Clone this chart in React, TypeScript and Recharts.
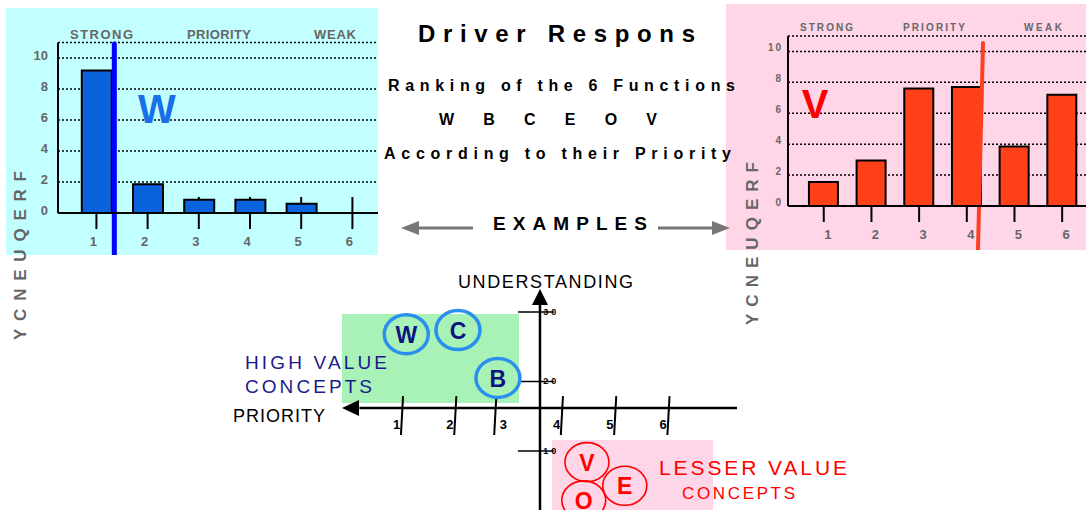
import {
  BarChart,
  Bar,
  XAxis,
  YAxis,
  CartesianGrid,
  ReferenceLine,
  ReferenceArea,
  ScatterChart,
  Scatter,
} from 'recharts'

const FONT = '"Liberation Sans", Arial, Helvetica, sans-serif'
const GRAY = '#666666'

// top charts: frequency of each priority rank
const ranks = [1, 2, 3, 4, 5, 6]
const wFrequency = [9.2, 1.85, 0.85, 0.85, 0.6, 0]
const vFrequency = [1.55, 2.95, 7.6, 7.7, 3.85, 7.2]
const freqTicks = [0, 2, 4, 6, 8, 10]
const headerLabels = ['STRONG', 'PRIORITY', 'WEAK']
const functionLetters = ['W', 'B', 'C', 'E', 'O', 'V']

// bottom diagram: priority vs understanding
const highValue = [
  { name: 'W', priority: 1.08, understanding: 26.8 },
  { name: 'C', priority: 2.05, understanding: 27.4 },
  { name: 'B', priority: 2.8, understanding: 20.5 },
]
const lesserValue = [
  { name: 'V', priority: 4.47, understanding: 8.4 },
  { name: 'E', priority: 5.18, understanding: 5.0 },
  { name: 'O', priority: 4.41, understanding: 2.9 },
]
const priorityTicks = [1, 2, 2.75, 4, 5, 6]
const priorityLabels = ['1', '2', '3', '4', '5', '6']
const understandingTicks = [10, 20, 30]

const wData = ranks.map((rank, i) => ({ rank, freq: wFrequency[i] }))
const vData = ranks.map((rank, i) => ({ rank, freq: vFrequency[i] }))

// plot height 170.5px for an 11-unit domain
const PX_PER_UNIT = 170.5 / 11

function RankTick(props: any) {
  const { x, y, payload, up, dx, freqs } = props
  // the bars hide the upper half of the tick, so only draw what sticks out
  const covered = Math.min(up, (freqs[payload.value - 1] || 0) * PX_PER_UNIT)
  return (
    <g>
      {up > covered && <line x1={x} x2={x} y1={y - up} y2={y - covered} stroke="#000" strokeWidth={2} />}
      <line x1={x} x2={x} y1={y} y2={y + 16} stroke="#000" strokeWidth={2} />
      <text x={x + dx} y={y + 33} textAnchor="middle" fontFamily={FONT} fontWeight={700} fontSize={13} fill={GRAY}>
        {payload.value}
      </text>
    </g>
  )
}

function FreqTick(props: any) {
  const { x, y, payload, off, size, spacing, dy } = props
  return (
    <text x={x - off} y={y + dy} textAnchor="end" fontFamily={FONT} fontWeight={700} fontSize={size} letterSpacing={spacing} fill={GRAY}>
      {payload.value}
    </text>
  )
}

function FreqChart(props: any) {
  const { data, freqs, color, width, height, margin, marker, tickUp, tickDx, ySize, ySpacing, yOff, yDy, barSize } = props
  return (
    <BarChart width={width} height={height} data={data} margin={margin}>
      <CartesianGrid vertical={false} stroke="#000" strokeWidth={1.5} strokeDasharray="2 2" />
      <XAxis
        type="number"
        dataKey="rank"
        domain={[0.25, 6.5]}
        ticks={ranks}
        interval={0}
        allowDataOverflow
        height={30}
        tickSize={0}
        tickMargin={0}
        axisLine={{ stroke: '#000', strokeWidth: 2 }}
        tickLine={false}
        tick={(p: any) => <RankTick {...p} up={tickUp} dx={tickDx} freqs={freqs} />}
      />
      <YAxis
        type="number"
        domain={[0, 11]}
        ticks={freqTicks}
        interval={0}
        allowDataOverflow
        width={30}
        tickSize={0}
        tickMargin={0}
        axisLine={{ stroke: '#000', strokeWidth: 2 }}
        tickLine={false}
        tick={(p: any) => <FreqTick {...p} off={yOff} size={ySize} spacing={ySpacing} dy={yDy} />}
      />
      <Bar dataKey="freq" fill={color} stroke="#000" strokeWidth={2} barSize={barSize} isAnimationActive={false} />
      <ReferenceLine segment={marker.segment} stroke={marker.color} strokeWidth={marker.width} strokeLinecap="round" ifOverflow="visible" />
    </BarChart>
  )
}

function ConceptMark(props: any) {
  const { cx, cy, payload, stroke, strokeWidth, textColor } = props
  return (
    <g>
      <ellipse cx={cx} cy={cy} rx={22} ry={19.5} fill="none" stroke={stroke} strokeWidth={strokeWidth} />
      <text x={cx} y={cy + 8.5} textAnchor="middle" fontFamily={FONT} fontWeight={700} fontSize={23} fill={textColor}>
        {payload.name}
      </text>
    </g>
  )
}

function SmallLabel(props: any) {
  const { cx, cy, payload } = props
  return (
    <text x={cx} y={cy + payload.dy} textAnchor="middle" fontFamily={FONT} fontWeight={700} fontSize={payload.size} letterSpacing={payload.spacing} fill="#000">
      {payload.label}
    </text>
  )
}

function ArrowHead(props: any) {
  const { cx, cy, payload } = props
  const pts = payload.dir === 'left'
    ? `${cx},${cy} ${cx + 17},${cy - 8} ${cx + 17},${cy + 8}`
    : `${cx},${cy} ${cx - 8},${cy + 16} ${cx + 8},${cy + 16}`
  return <polygon points={pts} fill="#000" />
}

function Txt(props: any) {
  const { x, y, w, size, bold = true, color = '#000', children, anchor = 'start' } = props
  return (
    <text
      x={x}
      y={y}
      textLength={w}
      lengthAdjust="spacing"
      textAnchor={anchor}
      fontFamily={FONT}
      fontWeight={bold ? 700 : 400}
      fontSize={size}
      fill={color}
    >
      {children}
    </text>
  )
}

export default function App() {
  const axisY = 16.19
  const axisX = 3.589
  const tickLabelData = priorityLabels.map((label, i) => ({
    priority: i + 0.9,
    understanding: 13.88,
    label,
    dy: 4.5,
    size: 13,
    spacing: 0,
  }))
  const uLabelData = understandingTicks.map((u) => ({
    priority: 3.8,
    understanding: u,
    label: String(u),
    dy: 3,
    size: 9,
    spacing: 3,
  }))
  const arrowData = [
    { priority: -0.126, understanding: axisY, dir: 'left' },
    { priority: axisX, understanding: 33.3, dir: 'up' },
  ]

  return (
    <div style={{ position: 'absolute', left: 0, top: 0, width: 1086, height: 510, background: '#fff', overflow: 'hidden' }}>
      <div style={{ position: 'absolute', left: 6, top: 8, width: 372, height: 247, background: '#c2ffff' }}>
        <FreqChart
          data={wData}
          freqs={wFrequency}
          color="#0a62dc"
          width={372}
          height={247}
          margin={{ top: 34.5, right: 0, bottom: 12, left: 22 }}
          marker={{ segment: [{ x: 1.35, y: 10.9 }, { x: 1.35, y: -2.8 }], color: '#0000ff', width: 5 }}
          tickUp={16}
          tickDx={-3}
          ySize={13}
          ySpacing={0}
          yOff={10}
          yDy={1.5}
          barSize={30}
        />
      </div>
      <div style={{ position: 'absolute', left: 726, top: 4, width: 360, height: 246, background: '#ffd6e8' }}>
        <FreqChart
          data={vData}
          freqs={vFrequency}
          color="#ff4018"
          width={360}
          height={246}
          margin={{ top: 32, right: 0, bottom: 14, left: 32 }}
          marker={{ segment: [{ x: 4.34, y: 10.55 }, { x: 4.235, y: -2.78 }], color: '#ff4020', width: 4 }}
          tickUp={0}
          tickDx={4}
          ySize={10}
          ySpacing={2}
          yOff={5}
          yDy={-0.5}
          barSize={29}
        />
      </div>

      <div style={{ position: 'absolute', left: 200, top: 262 }}>
        <ScatterChart width={560} height={248} margin={{ top: 0, right: 0, bottom: 0, left: 0 }}>
          <XAxis type="number" dataKey="priority" domain={[-2.79, 7.717]} allowDataOverflow hide />
          <YAxis type="number" dataKey="understanding" domain={[1.511, 37.19]} allowDataOverflow hide />
          <ReferenceArea x1={-0.126} x2={3.195} y1={16.91} y2={29.71} fill="#a8f2b8" fillOpacity={1} stroke="none" />
          <ReferenceArea x1={3.814} x2={6.835} y1={1.511} y2={11.58} fill="#ffd6e8" fillOpacity={1} stroke="none" />
          <ReferenceLine segment={[{ x: 0.2, y: axisY }, { x: 7.285, y: axisY }]} stroke="#000" strokeWidth={2.5} />
          <ReferenceLine segment={[{ x: axisX, y: 1.511 }, { x: axisX, y: 31 }]} stroke="#000" strokeWidth={2.5} />
          {priorityTicks.map((p) => (
            <ReferenceLine
              key={'p' + p}
              segment={[{ x: p + 0.02, y: 17.9 }, { x: p - 0.02, y: 12.3 }]}
              stroke="#000"
              strokeWidth={2}
            />
          ))}
          {understandingTicks.map((u) => (
            <ReferenceLine
              key={'u' + u}
              segment={[{ x: 3.176, y: u }, { x: 3.85, y: u }]}
              stroke="#000"
              strokeWidth={1.5}
            />
          ))}
          <Scatter data={arrowData} shape={(p: any) => <ArrowHead {...p} />} isAnimationActive={false} />
          <Scatter data={tickLabelData} shape={(p: any) => <SmallLabel {...p} />} isAnimationActive={false} />
          <Scatter data={uLabelData} shape={(p: any) => <SmallLabel {...p} />} isAnimationActive={false} />
          <Scatter
            data={highValue}
            shape={(p: any) => <ConceptMark {...p} stroke="#2a90f0" strokeWidth={3.5} textColor="#0c1480" />}
            isAnimationActive={false}
          />
          <Scatter
            data={lesserValue}
            shape={(p: any) => <ConceptMark {...p} stroke="#ff0000" strokeWidth={1.6} textColor="#ff0000" />}
            isAnimationActive={false}
          />
        </ScatterChart>
      </div>

      <svg width={1086} height={510} style={{ position: 'absolute', left: 0, top: 0, pointerEvents: 'none' }}>
        {/* title block */}
        <Txt x={418} y={42} w={277} size={24}>Driver Respons</Txt>
        <Txt x={388} y={91} w={347} size={16}>Ranking of the 6 Functions</Txt>
        <Txt x={439} y={125} w={218} size={16}>{functionLetters.join(' ')}</Txt>
        <Txt x={384} y={159} w={347} size={16}>According to their Priority</Txt>
        <Txt x={493} y={230} w={154} size={19}>EXAMPLES</Txt>
        <line x1={473} y1={228} x2={414} y2={228} stroke="#777" strokeWidth={3} />
        <polygon points="401,228 419,221 419,235" fill="#777" />
        <line x1={658} y1={228} x2={717} y2={228} stroke="#777" strokeWidth={3} />
        <polygon points="730,228 712,221 712,235" fill="#777" />

        {/* left chart headers */}
        <Txt x={70} y={39} w={63} size={13} color={GRAY}>{headerLabels[0]}</Txt>
        <Txt x={187} y={39} w={64} size={13} color={GRAY}>{headerLabels[1]}</Txt>
        <Txt x={314} y={39} w={42} size={13} color={GRAY}>{headerLabels[2]}</Txt>
        <text x={157} y={123} textAnchor="middle" fontFamily={FONT} fontWeight={700} fontSize={40} fill="#1a6ee6">W</text>

        {/* right chart headers */}
        <Txt x={800} y={31} w={53} size={10} color={GRAY}>{headerLabels[0]}</Txt>
        <Txt x={903} y={31} w={62} size={10} color={GRAY}>{headerLabels[1]}</Txt>
        <Txt x={1024} y={31} w={38} size={10} color={GRAY}>{headerLabels[2]}</Txt>
        <text x={815} y={118} textAnchor="middle" fontFamily={FONT} fontWeight={700} fontSize={40} fill="#ff0000">V</text>

        {/* vertical axis titles */}
        <text transform="translate(26,255.5) rotate(-90)" textAnchor="middle" textLength={169} lengthAdjust="spacing"
          fontFamily={FONT} fontWeight={700} fontSize={17} fill={GRAY}>YCNEUQERF</text>
        <text transform="translate(758,243.5) rotate(-90)" textAnchor="middle" textLength={163} lengthAdjust="spacing"
          fontFamily={FONT} fontWeight={700} fontSize={17} fill={GRAY}>YCNEUQERF</text>

        {/* bottom diagram labels */}
        <Txt x={458} y={288} w={175} size={18} bold={false}>UNDERSTANDING</Txt>
        <Txt x={233} y={422} w={92} size={18} bold={false}>PRIORITY</Txt>
        <Txt x={245} y={369} w={142} size={19} bold={false} color="#1a1a8a">HIGH VALUE</Txt>
        <Txt x={245} y={393} w={127} size={19} bold={false} color="#1a1a8a">CONCEPTS</Txt>
        <Txt x={659} y={475} w={188} size={21} bold={false} color="#ff0000">LESSER VALUE</Txt>
        <Txt x={682} y={499} w={113} size={17} bold={false} color="#ff0000">CONCEPTS</Txt>
      </svg>
    </div>
  )
}
